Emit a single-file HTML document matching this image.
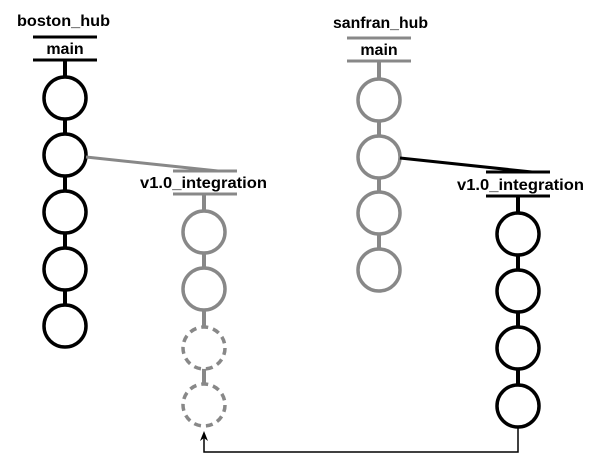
<!DOCTYPE html>
<html><head><style>body{margin:0;background:#fff}svg{display:block}</style></head><body>
<svg width="600" height="468" viewBox="0 0 600 468" xmlns="http://www.w3.org/2000/svg" font-family="Liberation Sans, sans-serif" font-weight="bold" font-size="16">
<rect width="600" height="468" fill="#fff"/>
<!-- boston -->
<text x="17" y="26" textLength="93" lengthAdjust="spacingAndGlyphs">boston_hub</text>
<g stroke="#000" stroke-width="3" fill="none">
<line x1="33" y1="37" x2="97" y2="37"/><line x1="33" y1="60" x2="97" y2="60"/>
</g>
<line x1="65" y1="60" x2="65" y2="326" stroke="#000" stroke-width="4"/>
<text x="65" y="54" text-anchor="middle">main</text>
<g stroke="#000" stroke-width="3.5" fill="#fff">
<circle cx="65" cy="98" r="21"/><circle cx="65" cy="155" r="21"/><circle cx="65" cy="212" r="21"/><circle cx="65" cy="269" r="21"/><circle cx="65" cy="326" r="21"/>
</g>
<line x1="86" y1="157" x2="218" y2="171" stroke="#888" stroke-width="3"/>
<g stroke="#888" stroke-width="3" fill="none">
<line x1="173" y1="171" x2="237" y2="171"/><line x1="173" y1="194" x2="237" y2="194"/>
</g>
<line x1="204" y1="194" x2="204" y2="405" stroke="#888" stroke-width="4"/>
<text x="140" y="188" textLength="127" lengthAdjust="spacingAndGlyphs">v1.0_integration</text>
<g stroke="#888" stroke-width="3.5" fill="#fff">
<circle cx="204" cy="232" r="21"/><circle cx="204" cy="289" r="21"/>
<circle cx="204" cy="348" r="21" stroke-dasharray="7,5"/><circle cx="204" cy="405" r="21" stroke-dasharray="7,5"/>
</g>
<!-- sanfran -->
<text x="333" y="28" textLength="95" lengthAdjust="spacingAndGlyphs">sanfran_hub</text>
<g stroke="#888" stroke-width="3" fill="none">
<line x1="347" y1="38" x2="411" y2="38"/><line x1="347" y1="61" x2="411" y2="61"/>
</g>
<line x1="379" y1="61" x2="379" y2="270" stroke="#888" stroke-width="4"/>
<text x="379" y="55" text-anchor="middle">main</text>
<g stroke="#888" stroke-width="3.5" fill="#fff">
<circle cx="379" cy="100" r="21"/><circle cx="379" cy="157" r="21"/><circle cx="379" cy="213" r="21"/><circle cx="379" cy="270" r="21"/>
</g>
<line x1="400" y1="158" x2="532" y2="172" stroke="#000" stroke-width="3"/>
<g stroke="#000" stroke-width="3" fill="none">
<line x1="486" y1="172" x2="550" y2="172"/><line x1="486" y1="196" x2="550" y2="196"/>
</g>
<line x1="518" y1="196" x2="518" y2="406" stroke="#000" stroke-width="4"/>
<text x="457" y="190" textLength="127" lengthAdjust="spacingAndGlyphs">v1.0_integration</text>
<g stroke="#000" stroke-width="3.5" fill="#fff">
<circle cx="518" cy="234" r="21"/><circle cx="518" cy="291" r="21"/><circle cx="518" cy="348" r="21"/><circle cx="518" cy="406" r="21"/>
</g>
<!-- arrow -->
<polyline points="518,427 518,452 204,452 204,438" fill="none" stroke="#000" stroke-width="1.5"/>
<polygon points="204,431 200,441 204,438 208,441" fill="#000"/>
</svg>
</body></html>
